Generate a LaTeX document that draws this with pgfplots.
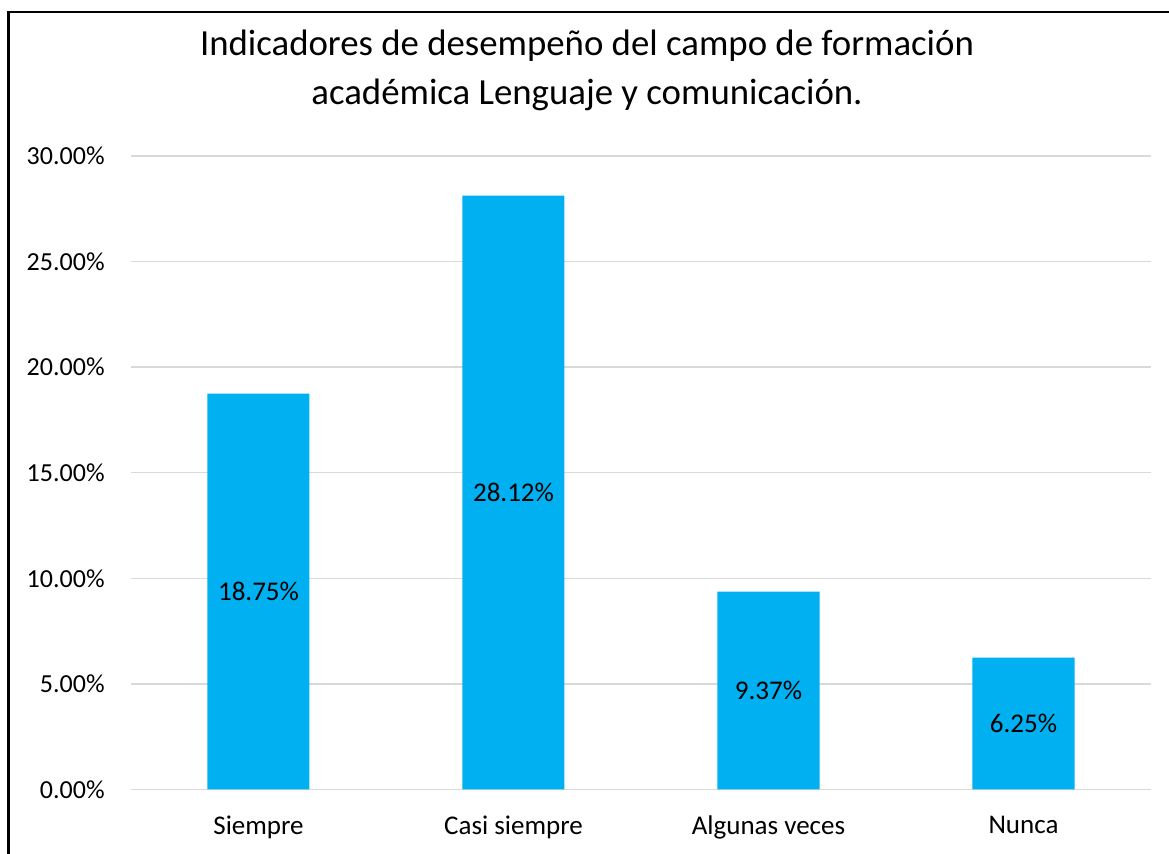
\documentclass[border=0pt]{standalone}
\usepackage{pgfplots}
\pgfplotsset{compat=1.18}
\usepackage{fontspec}
\setmainfont{Carlito}
\definecolor{barblue}{HTML}{00B0F0}
\definecolor{gridgray}{HTML}{D9D9D9}
\begin{document}
\begin{tikzpicture}
\path[use as bounding box] (0,0) rectangle (584.5pt,427pt);
\draw[black, line width=1.3pt] (4.25pt,0) -- (4.25pt,421pt) -- (584.5pt,421pt);
\node[align=center, font=\fontsize{18.4}{24.5}\selectfont, inner sep=0pt] at (293.5pt,392pt)
  {Indicadores de desempeño del campo de formación\\académica Lenguaje y comunicación.};
\begin{axis}[
  at={(65.5pt,32.25pt)}, anchor=south west,
  scale only axis, width=510pt, height=316.75pt,
  xmin=-0.5, xmax=3.5, ymin=0, ymax=30,
  axis line style={draw=none},
  tick style={draw=none},
  ymajorgrids, grid style={gridgray, line width=0.75pt},
  ytick={0,5,10,15,20,25,30},
  yticklabels={0.00\%,5.00\%,10.00\%,15.00\%,20.00\%,25.00\%,30.00\%},
  xtick={0,1,2,3},
  xticklabels={Siempre,Casi siempre,Algunas veces,Nunca},
  xticklabel style={font=\fontsize{13.5}{16}\selectfont, inner sep=0pt, yshift=-13pt},
  yticklabel style={font=\fontsize{13}{16}\selectfont, inner xsep=0pt, xshift=-13pt},
  clip=false,
]
\addplot[ybar, bar width=51pt, fill=barblue, draw=none] coordinates {(0,18.75) (1,28.12) (2,9.37) (3,6.25)};
\node[font=\fontsize{13.5}{16}\selectfont] at (axis cs:0,9.375) {18.75\%};
\node[font=\fontsize{13.5}{16}\selectfont] at (axis cs:1,14.06) {28.12\%};
\node[font=\fontsize{13.5}{16}\selectfont] at (axis cs:2,4.685) {9.37\%};
\node[font=\fontsize{13.5}{16}\selectfont] at (axis cs:3,3.125) {6.25\%};
\end{axis}
\end{tikzpicture}
\end{document}
